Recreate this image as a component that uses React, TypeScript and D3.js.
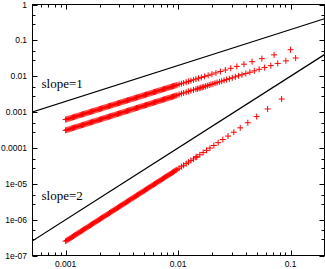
import React from "react";
import * as d3 from "d3";

// ---- data ----
// dense x region (markers overlap into a solid band), shared by the three series
const denseX = [
  1.000e-3, 1.023e-3, 1.047e-3, 1.072e-3, 1.096e-3, 1.122e-3, 1.148e-3, 1.175e-3, 1.202e-3, 1.230e-3,
  1.259e-3, 1.288e-3, 1.318e-3, 1.349e-3, 1.380e-3, 1.413e-3, 1.445e-3, 1.479e-3, 1.514e-3, 1.549e-3,
  1.585e-3, 1.622e-3, 1.660e-3, 1.698e-3, 1.738e-3, 1.778e-3, 1.820e-3, 1.862e-3, 1.905e-3, 1.950e-3,
  1.995e-3, 2.042e-3, 2.089e-3, 2.138e-3, 2.188e-3, 2.239e-3, 2.291e-3, 2.344e-3, 2.399e-3, 2.455e-3,
  2.512e-3, 2.570e-3, 2.630e-3, 2.692e-3, 2.754e-3, 2.818e-3, 2.884e-3, 2.951e-3, 3.020e-3, 3.090e-3,
  3.162e-3, 3.236e-3, 3.311e-3, 3.388e-3, 3.467e-3, 3.548e-3, 3.631e-3, 3.715e-3, 3.802e-3, 3.890e-3,
  3.981e-3, 4.074e-3, 4.169e-3, 4.266e-3, 4.365e-3, 4.467e-3, 4.571e-3, 4.677e-3, 4.786e-3, 4.898e-3,
  5.012e-3, 5.129e-3, 5.248e-3, 5.370e-3, 5.495e-3, 5.623e-3, 5.754e-3, 5.888e-3, 6.026e-3, 6.166e-3,
  6.310e-3, 6.457e-3, 6.607e-3, 6.761e-3, 6.918e-3, 7.079e-3, 7.244e-3, 7.413e-3, 7.586e-3, 7.762e-3,
  7.943e-3, 8.128e-3, 8.318e-3, 8.511e-3, 8.710e-3, 8.913e-3, 9.120e-3, 9.333e-3, 9.550e-3, 9.772e-3,
  0.0102, 0.0107, 0.0112, 0.0118, 0.0124, 0.013, 0.0137, 0.0144,
];

const upperDenseY = [
  0.617e-3, 0.631e-3, 0.645e-3, 0.660e-3, 0.675e-3, 0.690e-3, 0.706e-3, 0.722e-3, 0.738e-3, 0.755e-3,
  0.772e-3, 0.790e-3, 0.808e-3, 0.826e-3, 0.845e-3, 0.864e-3, 0.883e-3, 0.904e-3, 0.924e-3, 0.945e-3,
  0.967e-3, 0.988e-3, 1.011e-3, 1.034e-3, 1.057e-3, 1.081e-3, 1.106e-3, 1.131e-3, 1.156e-3, 1.183e-3,
  1.209e-3, 1.237e-3, 1.265e-3, 1.294e-3, 1.323e-3, 1.353e-3, 1.384e-3, 1.415e-3, 1.447e-3, 1.480e-3,
  1.514e-3, 1.548e-3, 1.583e-3, 1.619e-3, 1.656e-3, 1.693e-3, 1.732e-3, 1.771e-3, 1.811e-3, 1.852e-3,
  1.894e-3, 1.937e-3, 1.981e-3, 2.026e-3, 2.072e-3, 2.119e-3, 2.167e-3, 2.216e-3, 2.266e-3, 2.318e-3,
  2.370e-3, 2.424e-3, 2.479e-3, 2.535e-3, 2.593e-3, 2.652e-3, 2.712e-3, 2.773e-3, 2.836e-3, 2.901e-3,
  2.966e-3, 3.033e-3, 3.102e-3, 3.172e-3, 3.244e-3, 3.318e-3, 3.393e-3, 3.470e-3, 3.549e-3, 3.629e-3,
  3.712e-3, 3.796e-3, 3.882e-3, 3.969e-3, 4.059e-3, 4.151e-3, 4.245e-3, 4.342e-3, 4.440e-3, 4.541e-3,
  4.644e-3, 4.749e-3, 4.857e-3, 4.966e-3, 5.079e-3, 5.195e-3, 5.311e-3, 5.433e-3, 5.555e-3, 5.681e-3,
  0.00593, 0.00621, 0.0065, 0.00683, 0.00717, 0.00751, 0.0079, 0.00829,
];
const upperSparseX = [
  0.0152, 0.0161, 0.0172, 0.0185, 0.02, 0.0217, 0.0238, 0.0263, 0.0294, 0.0333,
  0.0385, 0.0455, 0.0556, 0.0714, 0.1,
];
const upperSparseY = [
  0.00874, 0.00924, 0.00986, 0.01058, 0.01142, 0.01237, 0.01354, 0.01491, 0.01664, 0.01878,
  0.02164, 0.02543, 0.03091, 0.03941, 0.0547,
];

const middleDenseY = [
  0.310e-3, 0.317e-3, 0.324e-3, 0.332e-3, 0.339e-3, 0.347e-3, 0.355e-3, 0.363e-3, 0.372e-3, 0.380e-3,
  0.389e-3, 0.398e-3, 0.407e-3, 0.416e-3, 0.426e-3, 0.436e-3, 0.446e-3, 0.456e-3, 0.467e-3, 0.477e-3,
  0.488e-3, 0.499e-3, 0.511e-3, 0.522e-3, 0.535e-3, 0.547e-3, 0.559e-3, 0.572e-3, 0.585e-3, 0.599e-3,
  0.612e-3, 0.627e-3, 0.641e-3, 0.656e-3, 0.671e-3, 0.686e-3, 0.702e-3, 0.718e-3, 0.735e-3, 0.751e-3,
  0.769e-3, 0.786e-3, 0.804e-3, 0.823e-3, 0.842e-3, 0.861e-3, 0.881e-3, 0.901e-3, 0.922e-3, 0.943e-3,
  0.964e-3, 0.987e-3, 1.009e-3, 1.032e-3, 1.056e-3, 1.080e-3, 1.105e-3, 1.130e-3, 1.157e-3, 1.183e-3,
  1.210e-3, 1.238e-3, 1.267e-3, 1.296e-3, 1.325e-3, 1.356e-3, 1.387e-3, 1.419e-3, 1.451e-3, 1.485e-3,
  1.519e-3, 1.554e-3, 1.589e-3, 1.626e-3, 1.663e-3, 1.701e-3, 1.740e-3, 1.780e-3, 1.821e-3, 1.863e-3,
  1.906e-3, 1.949e-3, 1.994e-3, 2.040e-3, 2.086e-3, 2.134e-3, 2.183e-3, 2.234e-3, 2.285e-3, 2.337e-3,
  2.391e-3, 2.446e-3, 2.502e-3, 2.559e-3, 2.618e-3, 2.678e-3, 2.740e-3, 2.803e-3, 2.867e-3, 2.933e-3,
  0.00311, 0.00326, 0.00341, 0.00359, 0.00377, 0.00395, 0.00416, 0.00437,
];
const middleSparseX = [
  0.0149, 0.0154, 0.0159, 0.0164, 0.0169, 0.0175, 0.0182, 0.0189, 0.0196, 0.0204,
  0.0213, 0.0222, 0.0233, 0.0244, 0.0256, 0.027, 0.0286, 0.0303, 0.0323, 0.0345,
  0.037, 0.04, 0.0435, 0.0476, 0.0526, 0.0588, 0.0667, 0.0769, 0.0909, 0.111,
];
const middleSparseY = [
  0.00446, 0.00461, 0.00476, 0.00491, 0.00506, 0.00524, 0.00545, 0.00565, 0.00586, 0.0061,
  0.00637, 0.00663, 0.00696, 0.00728, 0.00764, 0.00805, 0.00852, 0.00902, 0.00961, 0.01026,
  0.011, 0.01188, 0.01291, 0.01412, 0.01558, 0.0174, 0.01972, 0.02271, 0.02682, 0.0322,
];

const lowerDenseY = [
  0.2510e-6, 0.2629e-6, 0.2753e-6, 0.2885e-6, 0.3022e-6, 0.3166e-6, 0.3315e-6, 0.3472e-6, 0.3637e-6, 0.3812e-6,
  0.3993e-6, 0.4183e-6, 0.4381e-6, 0.4590e-6, 0.4806e-6, 0.5035e-6, 0.5273e-6, 0.5525e-6, 0.5787e-6, 0.6062e-6,
  0.6350e-6, 0.6651e-6, 0.6968e-6, 0.7299e-6, 0.7647e-6, 0.8009e-6, 0.8387e-6, 0.8785e-6, 0.9205e-6, 0.9642e-6,
  1.010e-6, 1.058e-6, 1.108e-6, 1.161e-6, 1.216e-6, 1.274e-6, 1.334e-6, 1.397e-6, 1.464e-6, 1.534e-6,
  1.607e-6, 1.683e-6, 1.763e-6, 1.846e-6, 1.934e-6, 2.026e-6, 2.122e-6, 2.223e-6, 2.328e-6, 2.439e-6,
  2.555e-6, 2.676e-6, 2.802e-6, 2.937e-6, 3.076e-6, 3.223e-6, 3.374e-6, 3.534e-6, 3.702e-6, 3.880e-6,
  4.064e-6, 4.258e-6, 4.460e-6, 4.672e-6, 4.892e-6, 5.125e-6, 5.367e-6, 5.623e-6, 5.890e-6, 6.170e-6,
  6.463e-6, 6.770e-6, 7.092e-6, 7.429e-6, 7.783e-6, 8.152e-6, 8.536e-6, 8.941e-6, 9.368e-6, 9.813e-6,
  10.28e-6, 10.77e-6, 11.28e-6, 11.82e-6, 12.38e-6, 12.97e-6, 13.58e-6, 14.22e-6, 14.90e-6, 15.61e-6,
  16.35e-6, 17.13e-6, 17.94e-6, 18.79e-6, 19.69e-6, 20.62e-6, 21.59e-6, 22.62e-6, 23.69e-6, 24.82e-6,
  2.705e-5, 2.988e-5, 3.274e-5, 3.648e-5, 4.029e-5, 4.445e-5, 4.936e-5, 5.474e-5,
];
const lowerSparseX = [
  0.0147, 0.0156, 0.0167, 0.0179, 0.0192, 0.0208, 0.0227, 0.025, 0.0278, 0.0313,
  0.0357, 0.0417, 0.05, 0.0625, 0.0833,
];
const lowerSparseY = [
  5.7e-5, 6.45e-5, 7.42e-5, 8.55e-5, 9.88e-5, 1.168e-4, 1.402e-4, 1.713e-4, 2.141e-4, 2.743e-4,
  3.632e-4, 5.043e-4, 7.5e-4, 1.219e-3, 2.311e-3,
];

const refLineX = [0.0005, 0.2];
const slope1Y = [0.001, 0.4];
const slope2Y = [2.5e-7, 0.04];

const xTicks = [0.001, 0.01, 0.1];
const xTickLabels = ["0.001", "0.01", "0.1"];
const yTicks = [1, 0.1, 0.01, 0.001, 0.0001, 1e-5, 1e-6, 1e-7];
const yTickLabels = ["1", "0.1", "0.01", "0.001", "0.0001", "1e-05", "1e-06", "1e-07"];
const xMinorMult = [2, 3, 4, 5, 6, 7, 8, 9];
const yMinorMult = [2.8, 5];
const labels = ["slope=1", "slope=2"];

// ---- layout ----
const W = 325;
const H = 269;
const L = 32.5, R = 324.5, T = 4.5, B = 255.5;

export default function App() {
  const x = d3.scaleLog().domain([0.0005, 0.2]).range([31.8, 324.4]);
  const y = d3.scaleLog().domain([1e-7, 1]).range([B, T]);

  const series = [
    { xs: [...denseX, ...upperSparseX], ys: [...upperDenseY, ...upperSparseY] },
    { xs: [...denseX, ...middleSparseX], ys: [...middleDenseY, ...middleSparseY] },
    { xs: [...denseX, ...lowerSparseX], ys: [...lowerDenseY, ...lowerSparseY] },
  ];

  const line = d3.line<[number, number]>().x((d) => x(d[0])).y((d) => y(d[1]));

  const xMinor: number[] = [];
  [0.0001, 0.001, 0.01, 0.1].forEach((dec) =>
    xMinorMult.forEach((m) => {
      const v = dec * m;
      if (v > 0.0005 && v < 0.2) xMinor.push(v);
    })
  );
  const yMinor: number[] = [];
  [1e-7, 1e-6, 1e-5, 1e-4, 1e-3, 1e-2, 1e-1].forEach((dec) =>
    yMinorMult.forEach((m) => yMinor.push(dec * m))
  );

  const major = 5;
  const minor = 3;
  const tickFont = { fontFamily: "'Liberation Sans', Arial, sans-serif", fontSize: 8.5 };

  return (
    <svg width={W} height={H} style={{ position: "absolute", left: 0, top: 0, background: "#fff" }}>
      <defs>
        <clipPath id="plotclip">
          <rect x={L} y={T} width={R - L} height={B - T} />
        </clipPath>
      </defs>

      {/* ticks */}
      <g stroke="#000" strokeWidth={1}>
        {xTicks.map((v, i) => {
          const px = Math.round(x(v)) + 0.5;
          return (
            <g key={"xt" + i}>
              <line x1={px} x2={px} y1={B} y2={B - major} />
              <line x1={px} x2={px} y1={T} y2={T + major} />
            </g>
          );
        })}
        {xMinor.map((v, i) => {
          const px = Math.round(x(v)) + 0.5;
          return (
            <g key={"xm" + i}>
              <line x1={px} x2={px} y1={B} y2={B - minor} />
              <line x1={px} x2={px} y1={T} y2={T + minor} />
            </g>
          );
        })}
        {yTicks.map((v, i) => {
          const py = Math.round(y(v)) + 0.5;
          return (
            <g key={"yt" + i}>
              <line x1={L} x2={L + major} y1={py} y2={py} />
              <line x1={R} x2={R - major} y1={py} y2={py} />
            </g>
          );
        })}
        {yMinor.map((v, i) => {
          const py = Math.round(y(v)) + 0.5;
          return (
            <g key={"ym" + i}>
              <line x1={L} x2={L + minor} y1={py} y2={py} />
              <line x1={R} x2={R - minor} y1={py} y2={py} />
            </g>
          );
        })}
      </g>

      {/* tick labels */}
      <g style={tickFont} fill="#000">
        {xTicks.map((v, i) => (
          <text key={"xl" + i} x={x(v)} y={267} textAnchor="middle">
            {xTickLabels[i]}
          </text>
        ))}
        {yTicks.map((v, i) => (
          <text key={"yl" + i} x={27} y={y(v) + 3} textAnchor="end">
            {yTickLabels[i]}
          </text>
        ))}
      </g>

      <g clipPath="url(#plotclip)">
        {/* reference lines */}
        <path
          d={line(refLineX.map((v, i) => [v, slope1Y[i]]) as [number, number][]) || ""}
          stroke="#000"
          strokeWidth={1.2}
          fill="none"
        />
        <path
          d={line(refLineX.map((v, i) => [v, slope2Y[i]]) as [number, number][]) || ""}
          stroke="#000"
          strokeWidth={1.2}
          fill="none"
        />

        {/* data markers */}
        <g stroke="#ff0000" strokeWidth={1} fill="none">
          {series.map((s, si) =>
            s.xs.map((xv, i) => {
              const px = x(xv);
              const py = y(s.ys[i]);
              return (
                <path
                  key={si + "-" + i}
                  d={`M${px - 3},${py}h6M${px},${py - 3}v6`}
                />
              );
            })
          )}
        </g>
      </g>

      {/* labels */}
      <g style={{ fontFamily: "'Liberation Serif', 'Times New Roman', serif", fontSize: 13 }} fill="#000">
        <text x={41.5} y={87.5}>{labels[0]}</text>
        <text x={41.5} y={200}>{labels[1]}</text>
      </g>

      {/* frame */}
      <rect x={L} y={T} width={R - L} height={B - T} fill="none" stroke="#000" strokeWidth={1} />
    </svg>
  );
}
